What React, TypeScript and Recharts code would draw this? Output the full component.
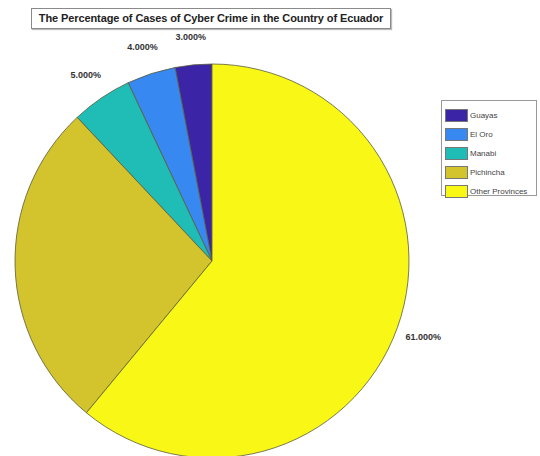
import { Pie, PieChart, Cell } from "recharts";

const provinces = ["Guayas", "El Oro", "Manabi", "Pichincha", "Other Provinces"];
const shares = [3, 4, 5, 27, 61];
const colors = ["#3b25a6", "#3888f2", "#1fbdb6", "#d3c32c", "#f8f716"];

const data = provinces.map((name, i) => ({ name, value: shares[i] }));

const RAD = Math.PI / 180;
const font = "'Liberation Sans', Arial, sans-serif";

/** Percentage label just outside the slice, MATLAB-style "61.000%". Labels falling off the canvas are dropped. */
function renderLabel(props: any) {
  const { cx, cy, midAngle, outerRadius, value } = props;
  const r = outerRadius * 1.14;
  const x = cx + r * Math.cos(-midAngle * RAD);
  const y = cy + r * Math.sin(-midAngle * RAD);
  if (x < 20) return null;
  return (
    <text
      x={x}
      y={y}
      textAnchor="middle"
      dominantBaseline="central"
      fontFamily={font}
      fontSize={9}
      fontWeight="bold"
      fill="#333"
    >
      {`${value.toFixed(3)}%`}
    </text>
  );
}

export default function App() {
  return (
    <div style={{ position: "fixed", left: 0, top: 0, width: 540, height: 456, background: "#fff", fontFamily: font }}>
      <div
        style={{
          position: "absolute",
          left: 31,
          top: 8,
          width: 358,
          height: 19,
          border: "1px solid #8a8a8a",
          boxShadow: "1px 1px 1px #bbb",
          fontSize: 11,
          fontWeight: "bold",
          color: "#222",
          lineHeight: "19px",
          textAlign: "center",
          whiteSpace: "nowrap",
          letterSpacing: -0.1,
        }}
      >
        The Percentage of Cases of Cyber Crime in the Country of Ecuador
      </div>
      <PieChart
        width={540}
        height={456}
        margin={{ top: 0, right: 0, bottom: 0, left: 0 }}
        style={{ position: "absolute", left: 0, top: 0 }}
      >
        <Pie
          data={data}
          dataKey="value"
          nameKey="name"
          cx={212}
          cy={261}
          outerRadius={197}
          startAngle={90}
          endAngle={450}
          stroke="#5a5a3a"
          strokeWidth={0.8}
          label={renderLabel}
          labelLine={false}
          isAnimationActive={false}
        >
          {data.map((d, i) => (
            <Cell key={d.name} fill={colors[i]} />
          ))}
        </Pie>
      </PieChart>
      <div
        style={{
          position: "absolute",
          left: 441,
          top: 100,
          width: 96,
          height: 96,
          border: "1px solid #999",
          background: "#fff",
          boxSizing: "border-box",
          paddingTop: 5,
        }}
      >
        {provinces.map((name, i) => (
          <div key={name} style={{ display: "flex", alignItems: "center", height: 19 }}>
            <span
              style={{
                display: "inline-block",
                width: 23,
                height: 13,
                marginLeft: 3,
                background: colors[i],
                border: "1px solid #777",
                boxSizing: "border-box",
              }}
            />
            <span style={{ fontSize: 8, color: "#444", marginLeft: 2, whiteSpace: "nowrap" }}>{name}</span>
          </div>
        ))}
      </div>
    </div>
  );
}
